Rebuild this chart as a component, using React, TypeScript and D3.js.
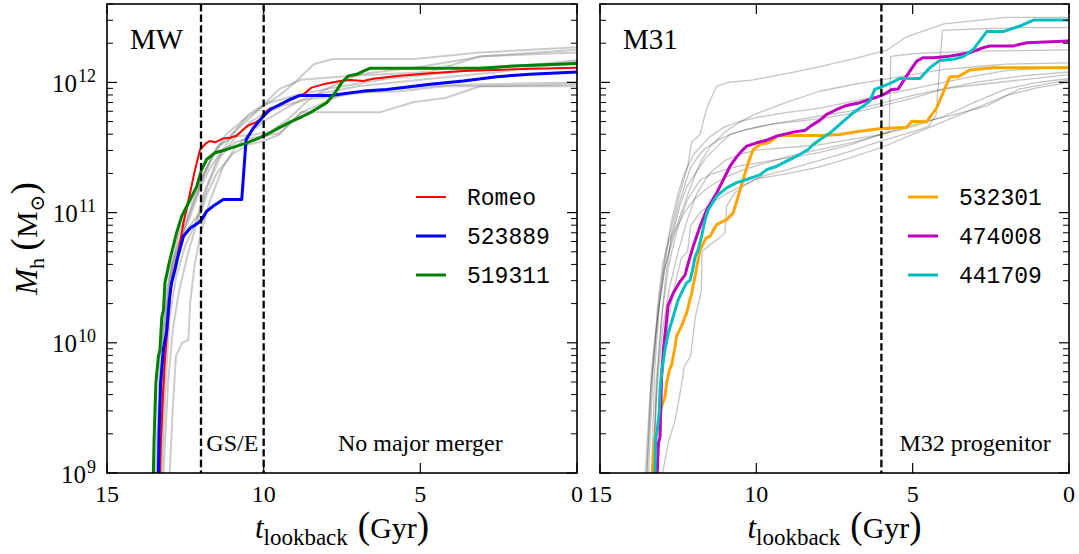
import React from 'react';
import * as d3 from 'd3';

// Each point: [lookback time (Gyr), log10(M_h / M_sun)]
type Pt = [number, number];

const mwRomeo: Pt[] = [
  [13.31, 9.0], [13.29, 9.18], [13.22, 9.56], [13.15, 9.87], [13.04, 10.2], [12.97, 10.41], [12.88, 10.54],
  [12.75, 10.66], [12.56, 10.92], [12.35, 11.15], [12.19, 11.33], [12.03, 11.485], [11.82, 11.536], [11.71, 11.55],
  [11.55, 11.54], [11.29, 11.57], [11.07, 11.575], [10.86, 11.592], [10.65, 11.638], [10.49, 11.67], [10.28, 11.69],
  [10.12, 11.715], [9.96, 11.767], [9.8, 11.8], [9.48, 11.825], [9.05, 11.875], [8.73, 11.908], [8.47, 11.96],
  [8.1, 11.985], [7.56, 12.01], [7.24, 12.018], [6.82, 12.01], [6.5, 12.028], [5.75, 12.049], [4.69, 12.07],
  [3.63, 12.087], [2.03, 12.1], [0, 12.113],
];

const mw523889: Pt[] = [
  [13.36, 9.0], [13.34, 9.3], [13.29, 9.69], [13.2, 9.95], [13.1, 10.08], [13.01, 10.33], [12.94, 10.46],
  [12.83, 10.56], [12.75, 10.65], [12.56, 10.818], [12.35, 10.88], [12.09, 10.92], [11.98, 10.946], [11.82, 11.01],
  [11.61, 11.05], [11.29, 11.1], [10.7, 11.1], [10.56, 11.56], [10.33, 11.65], [10.01, 11.74], [9.8, 11.79],
  [9.48, 11.83], [9.16, 11.87], [8.84, 11.9], [7.88, 11.9], [6.82, 11.933], [6.07, 11.946], [4.69, 11.985],
  [3.63, 12.01], [2.56, 12.044], [1.5, 12.062], [0, 12.08],
];

const mw519311: Pt[] = [
  [13.52, 9.0], [13.5, 9.23], [13.44, 9.69], [13.36, 9.895], [13.31, 9.946], [13.25, 10.2], [13.2, 10.25],
  [13.15, 10.46], [13.04, 10.587], [12.99, 10.64], [12.78, 10.844], [12.62, 10.97], [12.35, 11.1], [12.14, 11.2],
  [11.98, 11.33], [11.82, 11.408], [11.55, 11.46], [11.18, 11.485], [10.86, 11.51], [10.54, 11.536], [10.12, 11.575],
  [9.9, 11.6], [9.48, 11.655], [9.16, 11.695], [8.84, 11.73], [8.52, 11.767], [8.2, 11.813], [7.99, 11.844],
  [7.72, 11.92], [7.51, 11.998], [7.3, 12.049], [7.03, 12.062], [6.82, 12.087], [6.61, 12.108], [3.1, 12.108],
  [2.03, 12.126], [0, 12.146],
];

const mwOthers: Pt[][] = [
  [[13.4, 9], [13.3, 9.6], [13.2, 10.1], [13.0, 10.5], [12.7, 10.85], [12.4, 11.05], [12.0, 11.25], [11.6, 11.45], [11.2, 11.6], [10.6, 11.72], [10.0, 11.82], [9.5, 11.9], [9.0, 12.0], [8.4, 12.14], [7.8, 12.18], [5.2, 12.18], [3.1, 12.23], [1.5, 12.25], [0, 12.27]],
  [[13.3, 9], [13.2, 9.7], [13.1, 10.2], [12.9, 10.6], [12.5, 10.9], [12.2, 11.1], [11.8, 11.35], [11.4, 11.52], [10.8, 11.65], [10.2, 11.78], [9.5, 11.95], [8.8, 12.02], [7.3, 12.05], [4.7, 12.08], [3.1, 12.2], [0, 12.23]],
  [[13.0, 9], [12.9, 9.5], [12.8, 9.9], [12.6, 10.0], [12.4, 10.02], [12.35, 10.3], [12.2, 10.6], [12.0, 10.85], [11.7, 11.1], [11.3, 11.35], [10.9, 11.5], [10.4, 11.62], [10.0, 11.7], [9.3, 11.8], [8.5, 11.9], [7.0, 11.97], [5.0, 12.02], [2.5, 12.08], [0, 12.16]],
  [[13.35, 9], [13.25, 9.8], [13.1, 10.3], [12.9, 10.6], [12.6, 10.8], [12.2, 10.95], [12.0, 11.0], [11.8, 11.15], [11.5, 11.3], [11.0, 11.45], [10.5, 11.52], [10.0, 11.55], [9.5, 11.6], [8.8, 11.77], [7.9, 11.77], [6.3, 11.77], [5.2, 11.85], [4.2, 11.88], [3.1, 11.97], [0, 11.985]],
  [[13.3, 9], [13.2, 9.9], [13.0, 10.4], [12.7, 10.75], [12.3, 11.0], [12.0, 11.2], [11.7, 11.35], [11.3, 11.48], [10.8, 11.55], [10.2, 11.58], [9.5, 11.61], [8.8, 11.77], [7.35, 11.92], [5.75, 11.93], [4.2, 11.97], [0, 11.97]],
  [[13.25, 9], [13.15, 9.6], [13.0, 10.2], [12.8, 10.5], [12.5, 10.75], [12.2, 10.9], [11.9, 11.15], [11.5, 11.4], [11.0, 11.6], [10.5, 11.75], [10.0, 11.83], [9.0, 11.9], [8.0, 11.95], [6.0, 12.03], [3.0, 12.1], [0, 12.17]],
  [[13.2, 9], [13.05, 9.7], [12.9, 10.1], [12.7, 10.4], [12.4, 10.7], [12.1, 10.95], [11.8, 11.2], [11.4, 11.42], [11.0, 11.55], [10.4, 11.7], [10.0, 11.76], [9.4, 11.82], [8.6, 11.87], [7.5, 11.9], [6.0, 11.95], [4.0, 11.98], [0, 12.0]],
  [[13.45, 9], [13.3, 9.9], [13.15, 10.3], [12.95, 10.6], [12.6, 10.85], [12.3, 11.05], [11.9, 11.3], [11.5, 11.5], [11.0, 11.58], [10.3, 11.6], [9.8, 11.62], [9.2, 11.72], [8.5, 11.88], [8.0, 11.95], [7.0, 12.06], [5.0, 12.12], [3.0, 12.2], [0, 12.25]],
];

const m31_532301: Pt[] = [
  [13.33, 9.0], [13.24, 9.28], [13.13, 9.38], [13.03, 9.51], [12.92, 9.587], [12.87, 9.69], [12.78, 9.79],
  [12.71, 9.83], [12.6, 9.97], [12.55, 10.05], [12.39, 10.13], [12.23, 10.23], [12.07, 10.38], [11.96, 10.51],
  [11.86, 10.64], [11.8, 10.715], [11.61, 10.805], [11.48, 10.818], [11.27, 10.908], [10.95, 10.946],
  [10.74, 10.998], [10.58, 11.125], [10.42, 11.254], [10.26, 11.382], [10.1, 11.485], [9.88, 11.523],
  [9.62, 11.536], [9.46, 11.562], [9.3, 11.592], [7.96, 11.592], [7.33, 11.6], [6.69, 11.625], [6.05, 11.644],
  [5.19, 11.656], [5.03, 11.702], [4.55, 11.698], [4.23, 11.805], [3.81, 12.044], [3.54, 12.044], [3.17, 12.095],
  [2.42, 12.113], [0, 12.113],
];

const m31_474008: Pt[] = [
  [13.17, 9.0], [13.13, 9.23], [13.08, 9.28], [13.06, 9.48], [13.03, 9.74], [12.97, 9.95], [12.87, 10.18],
  [12.82, 10.29], [12.66, 10.38], [12.44, 10.47], [12.28, 10.52], [12.18, 10.61], [12.07, 10.7], [12.02, 10.74],
  [11.8, 10.895], [11.59, 11.02], [11.27, 11.15], [11.06, 11.25], [10.84, 11.356], [10.68, 11.41], [10.52, 11.46],
  [10.31, 11.51], [9.99, 11.536], [9.67, 11.556], [9.35, 11.587], [8.82, 11.618], [8.44, 11.633], [8.23, 11.67],
  [7.96, 11.71], [7.75, 11.754], [7.43, 11.792], [7.11, 11.823], [6.69, 11.844], [6.37, 11.87], [6.05, 11.895],
  [5.83, 11.92], [5.67, 11.946], [5.46, 11.95], [5.3, 12.01], [5.09, 12.087], [4.87, 12.164], [4.66, 12.19],
  [4.34, 12.19], [3.91, 12.198], [3.49, 12.215], [3.17, 12.228], [2.74, 12.267], [2.53, 12.28], [1.78, 12.28],
  [1.35, 12.305], [0, 12.318],
];

const m31_441709: Pt[] = [
  [13.24, 9.0], [13.22, 9.28], [13.17, 9.32], [13.1, 9.48], [13.08, 9.64], [13.03, 9.77], [12.92, 9.95],
  [12.82, 10.07], [12.66, 10.2], [12.5, 10.33], [12.34, 10.41], [12.23, 10.46], [12.12, 10.48], [12.04, 10.56],
  [11.96, 10.66], [11.86, 10.715], [11.75, 10.82], [11.64, 10.946], [11.54, 11.02], [11.27, 11.126],
  [10.95, 11.19], [10.63, 11.23], [10.31, 11.254], [9.88, 11.29], [9.67, 11.33], [9.35, 11.356], [9.03, 11.395],
  [8.71, 11.433], [8.34, 11.485], [8.18, 11.523], [7.96, 11.562], [7.64, 11.613], [7.33, 11.677], [6.9, 11.767],
  [6.58, 11.818], [6.37, 11.856], [6.21, 11.946], [5.94, 11.972], [5.67, 11.998], [5.41, 12.03], [4.77, 12.03],
  [4.45, 12.113], [4.13, 12.169], [3.7, 12.177], [3.38, 12.198], [3.06, 12.254], [2.63, 12.39], [2.1, 12.39],
  [1.57, 12.433], [1.14, 12.479], [0, 12.479],
];

const m31Others: Pt[][] = [
  [[13.55, 9], [13.4, 9.6], [13.2, 10.1], [13.0, 10.5], [12.8, 10.8], [12.5, 11.1], [12.2, 11.35], [12.07, 11.54], [11.8, 11.6], [11.59, 11.8], [11.5, 11.85], [11.27, 11.97], [10.9, 12.0], [10.1, 12.02], [9.0, 12.07], [8.0, 12.12], [6.9, 12.18], [5.8, 12.25], [5.2, 12.35], [4.0, 12.45], [2.0, 12.5], [0, 12.5]],
  [[13.5, 9], [13.35, 9.7], [13.15, 10.2], [12.95, 10.55], [12.7, 10.8], [12.4, 11.0], [12.1, 11.2], [11.8, 11.38], [11.5, 11.5], [11.0, 11.62], [10.5, 11.7], [10.0, 11.76], [9.0, 11.85], [8.0, 11.93], [7.0, 11.98], [6.0, 12.02], [5.0, 12.06], [4.0, 12.1], [3.0, 12.12], [2.0, 12.14], [0, 12.15]],
  [[13.45, 9], [13.3, 9.8], [13.15, 10.3], [13.0, 10.6], [12.8, 10.78], [12.66, 10.85], [12.45, 11.05], [12.22, 11.2], [11.9, 11.32], [11.58, 11.43], [11.2, 11.52], [10.84, 11.6], [10.3, 11.64], [9.5, 11.68], [8.0, 11.72], [7.0, 11.76], [6.0, 11.82], [5.0, 11.88], [4.0, 11.95], [3.0, 12.0], [1.5, 12.05], [0, 12.08]],
  [[13.35, 9], [13.25, 9.8], [13.1, 10.3], [12.9, 10.6], [12.6, 10.85], [12.3, 11.0], [12.0, 11.1], [11.5, 11.2], [11.0, 11.27], [10.5, 11.32], [10.0, 11.36], [9.0, 11.43], [7.96, 11.485], [6.9, 11.54], [5.83, 11.615], [4.77, 11.69], [3.7, 11.75], [2.63, 11.82], [1.57, 11.95], [0, 12.02]],
  [[13.0, 9], [12.8, 9.25], [12.6, 9.4], [12.45, 9.6], [12.3, 9.82], [12.1, 9.9], [11.95, 10.2], [11.76, 10.4], [11.74, 10.7], [11.5, 10.75], [11.2, 10.8], [11.0, 10.85], [10.95, 11.05], [10.7, 11.15], [10.3, 11.22], [9.8, 11.28], [9.0, 11.33], [8.0, 11.4], [7.0, 11.47], [6.0, 11.55], [5.0, 11.62], [4.5, 11.66], [4.25, 11.75], [4.05, 12.4], [3.0, 12.41], [1.5, 12.42], [0, 12.42]],
  [[13.3, 9], [13.2, 9.6], [13.0, 10.1], [12.8, 10.4], [12.5, 10.7], [12.2, 10.95], [11.9, 11.15], [11.5, 11.3], [11.0, 11.4], [10.5, 11.45], [10.0, 11.48], [9.0, 11.5], [8.0, 11.52], [7.0, 11.56], [6.0, 11.6], [5.75, 11.62], [5.7, 12.2], [5.0, 12.22], [4.0, 12.23], [3.0, 12.24], [0, 12.25]],
  [[13.5, 9], [13.35, 9.8], [13.1, 10.35], [12.9, 10.7], [12.7, 10.95], [12.5, 11.15], [12.3, 11.3], [12.0, 11.45], [11.5, 11.58], [11.0, 11.66], [10.5, 11.7], [10.0, 11.73], [9.0, 11.77], [8.0, 11.8], [7.0, 11.85], [6.0, 11.9], [5.0, 11.95], [4.0, 12.0], [3.0, 12.05], [2.0, 12.09], [0, 12.12]],
  [[13.3, 9], [13.15, 9.8], [13.0, 10.25], [12.8, 10.6], [12.5, 10.9], [12.2, 11.1], [11.8, 11.25], [11.4, 11.3], [11.0, 11.33], [10.5, 11.36], [10.0, 11.38], [9.0, 11.42], [8.0, 11.46], [7.0, 11.52], [6.0, 11.6], [5.0, 11.66], [4.0, 11.74], [3.0, 11.85], [2.0, 11.95], [1.0, 12.0], [0, 12.03]],
  [[13.25, 9], [13.1, 9.5], [12.95, 9.9], [12.8, 10.2], [12.6, 10.45], [12.4, 10.65], [12.2, 10.7], [12.1, 10.9], [11.8, 11.0], [11.4, 11.08], [11.0, 11.14], [10.5, 11.2], [10.0, 11.26], [9.0, 11.3], [8.0, 11.35], [7.0, 11.42], [6.0, 11.5], [5.0, 11.6], [4.0, 11.7], [3.0, 11.8], [2.0, 11.9], [1.0, 11.96], [0, 12.0]],
  [[13.3, 9], [13.2, 9.7], [13.05, 10.15], [12.9, 10.5], [12.7, 10.85], [12.5, 11.05], [12.3, 11.2], [12.1, 11.35], [11.8, 11.45], [11.6, 11.5], [11.2, 11.56], [10.84, 11.6], [10.3, 11.64], [9.5, 11.68], [8.5, 11.72], [8.0, 11.74], [7.0, 11.78], [6.0, 11.84], [5.0, 11.9], [4.0, 11.95], [3.0, 11.98], [1.5, 12.02], [0, 12.06]],
];

const xTickValues = [15, 10, 5, 0];
const yDecades = [9, 10, 11, 12];

interface Series { label: string; color: string; width: number; data: Pt[] }

const mwSeries: Series[] = [
  { label: 'Romeo', color: '#ff0000', width: 2, data: mwRomeo },
  { label: '523889', color: '#0000ff', width: 3, data: mw523889 },
  { label: '519311', color: '#008000', width: 3, data: mw519311 },
];
const m31Series: Series[] = [
  { label: '532301', color: '#ffa500', width: 3, data: m31_532301 },
  { label: '474008', color: '#bf00bf', width: 3, data: m31_474008 },
  { label: '441709', color: '#00bfbf', width: 3, data: m31_441709 },
];

const W = 1079;
const H = 554;
const TOP = 4;
const BOTTOM = 473;
const SERIF = '"Liberation Serif", "Times New Roman", serif';
const MONO = '"Liberation Mono", "DejaVu Sans Mono", monospace';

const y = d3.scaleLog().domain([1e9, 4e12]).range([BOTTOM, TOP]);

const minorValues: number[] = [];
yDecades.forEach((e) => {
  for (let k = 2; k <= 9; k++) {
    const v = k * Math.pow(10, e);
    if (v <= 4e12) minorValues.push(v);
  }
});

interface PanelProps {
  id: string;
  x0: number;
  x1: number;
  title: string;
  others: Pt[][];
  othersStyle: { stroke: string; opacity: number; width: number };
  series: Series[];
  dashes: number[];
  notes: { text: string; t: number }[];
  legendX: number;
}

function Panel({ id, x0, x1, title, others, othersStyle, series, dashes, notes, legendX }: PanelProps) {
  const x = d3.scaleLinear().domain([15, 0]).range([x0, x1]);
  const line = d3
    .line<Pt>()
    .x((d) => x(d[0]))
    .y((d) => y(Math.pow(10, d[1])));
  const majorLen = 10;
  const minorLen = 6;
  return (
    <g>
      <defs>
        <clipPath id={`clip-${id}`}>
          <rect x={x0} y={TOP} width={x1 - x0} height={BOTTOM - TOP} />
        </clipPath>
      </defs>
      <g clipPath={`url(#clip-${id})`}>
        {others.map((d, i) => (
          <path
            key={`o${i}`}
            d={line(d) || ''}
            fill="none"
            stroke={othersStyle.stroke}
            strokeOpacity={othersStyle.opacity}
            strokeWidth={othersStyle.width}
            strokeLinejoin="round"
          />
        ))}
        {series.map((s) => (
          <path key={s.label} d={line(s.data) || ''} fill="none" stroke={s.color} strokeWidth={s.width} strokeLinejoin="round" />
        ))}
        {dashes.map((t) => (
          <line key={`d${t}`} x1={x(t)} x2={x(t)} y1={TOP} y2={BOTTOM} stroke="#000" strokeWidth={2.3} strokeDasharray="7.4,3.2" />
        ))}
      </g>
      {/* frame */}
      <rect x={x0} y={TOP} width={x1 - x0} height={BOTTOM - TOP} fill="none" stroke="#000" strokeWidth={1.6} />
      {/* inward ticks */}
      {yDecades.map((e) => {
        const yy = y(Math.pow(10, e));
        return (
          <g key={`ym${e}`}>
            <line x1={x0} x2={x0 + majorLen} y1={yy} y2={yy} stroke="#000" strokeWidth={1.2} />
            <line x1={x1} x2={x1 - majorLen} y1={yy} y2={yy} stroke="#000" strokeWidth={1.2} />
          </g>
        );
      })}
      {minorValues.map((v) => {
        const yy = y(v);
        return (
          <g key={`yn${v}`}>
            <line x1={x0} x2={x0 + minorLen} y1={yy} y2={yy} stroke="#000" strokeWidth={1} />
            <line x1={x1} x2={x1 - minorLen} y1={yy} y2={yy} stroke="#000" strokeWidth={1} />
          </g>
        );
      })}
      {xTickValues.map((t) => (
        <g key={`xt${t}`}>
          <line x1={x(t)} x2={x(t)} y1={BOTTOM} y2={BOTTOM - majorLen} stroke="#000" strokeWidth={1.2} />
          <line x1={x(t)} x2={x(t)} y1={TOP} y2={TOP + majorLen} stroke="#000" strokeWidth={1.2} />
          <text x={x(t)} y={502} textAnchor="middle" fontFamily={SERIF} fontSize={24}>
            {t}
          </text>
        </g>
      ))}
      {/* panel title */}
      <text x={x0 + 23} y={49} fontFamily={SERIF} fontSize={29}>
        {title}
      </text>
      {/* region notes */}
      {notes.map((n) => (
        <text key={n.text} x={x(n.t)} y={451} textAnchor="middle" fontFamily={SERIF} fontSize={24}>
          {n.text}
        </text>
      ))}
      {/* legend */}
      {series.map((s, i) => {
        const ly = 197 + i * 39;
        return (
          <g key={`lg${s.label}`}>
            <line x1={legendX} x2={legendX + 30} y1={ly} y2={ly} stroke={s.color} strokeWidth={s.width} />
            <text x={legendX + 51} y={ly + 8} fontFamily={MONO} fontSize={23}>
              {s.label}
            </text>
          </g>
        );
      })}
      {/* x axis label */}
      <text x={(x0 + x1) / 2} y={538} textAnchor="middle" fontFamily={SERIF}>
        <tspan fontStyle="italic" fontSize={31}>t</tspan>
        <tspan fontSize={23} dy={7}>lookback</tspan>
        <tspan fontSize={40} dy={-7}>{'\u00a0'}</tspan>
        <tspan fontSize={37}>(</tspan>
        <tspan fontSize={30}>Gyr</tspan>
        <tspan fontSize={37}>)</tspan>
      </text>
    </g>
  );
}

export default function App() {
  return (
    <svg width={W} height={H} style={{ position: 'absolute', left: 0, top: 0, background: '#fff' }}>
      <rect width={W} height={H} fill="#fff" />
      {/* y tick labels */}
      {yDecades.map((e) => (
        <text key={`yl${e}`} x={96} y={y(Math.pow(10, e)) + 9.5} textAnchor="end" fontFamily={SERIF} fontSize={25}>
          <tspan>10</tspan>
          <tspan fontSize={18} dx={1} dy={-10}>{e}</tspan>
        </text>
      ))}
      {/* y axis label */}
      <text transform={`translate(37,${(TOP + BOTTOM) / 2}) rotate(-90)`} textAnchor="middle" fontFamily={SERIF}>
        <tspan fontStyle="italic" fontSize={31}>M</tspan>
        <tspan fontSize={22} dy={7}>h</tspan>
        <tspan fontSize={30} dy={-7}>{'\u00a0'}</tspan>
        <tspan fontSize={37}>(</tspan>
        <tspan fontSize={30}>M</tspan>
        <tspan fontSize={20} dy={7} fontFamily='"DejaVu Serif", serif'>⊙</tspan>
        <tspan fontSize={37} dy={-7}>)</tspan>
      </text>
      <Panel
        id="mw"
        x0={107}
        x1={577}
        title="MW"
        others={mwOthers}
        othersStyle={{ stroke: '#808080', opacity: 0.4, width: 2 }}
        series={mwSeries}
        dashes={[12, 10]}
        notes={[
          { text: 'GS/E', t: 11 },
          { text: 'No major merger', t: 5 },
        ]}
        legendX={416}
      />
      <Panel
        id="m31"
        x0={600}
        x1={1069}
        title="M31"
        others={m31Others}
        othersStyle={{ stroke: '#404040', opacity: 0.3, width: 1.3 }}
        series={m31Series}
        dashes={[6]}
        notes={[{ text: 'M32 progenitor', t: 3 }]}
        legendX={908}
      />
    </svg>
  );
}
